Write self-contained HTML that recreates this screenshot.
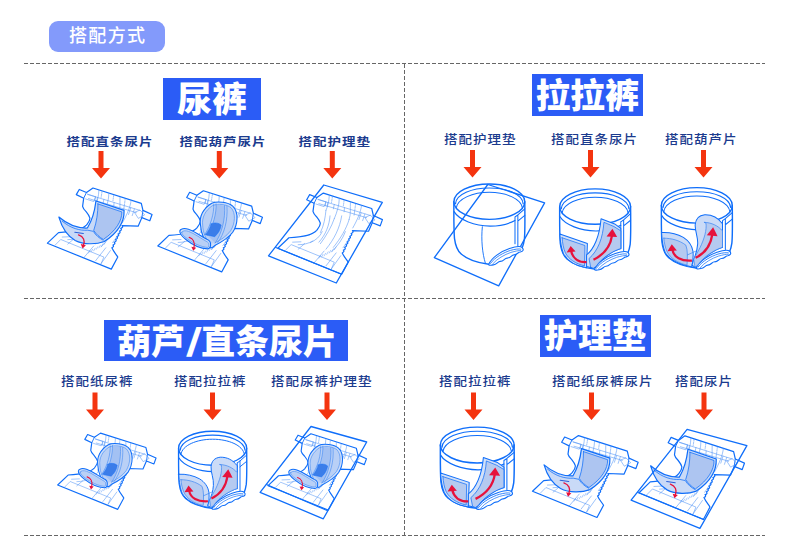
<!DOCTYPE html>
<html lang="zh-CN">
<head>
<meta charset="utf-8">
<title>搭配方式</title>
<style>
html,body{margin:0;padding:0;background:#fff;}
body{width:790px;height:540px;position:relative;overflow:hidden;font-family:"Liberation Sans","Noto Sans CJK SC",sans-serif;}
.pill{position:absolute;left:49px;top:21px;width:116px;height:31px;border-radius:9px;background:#839afb;color:#fff;font-size:18px;font-weight:500;line-height:31px;text-align:center;letter-spacing:1.4px;text-indent:1.4px;}
.ttl{position:absolute;background:#2b5cf6;color:#fff;font-weight:900;font-size:35px;text-align:center;white-space:nowrap;}
.lb{position:absolute;color:#1b3b8e;font-size:13.5px;font-weight:500;letter-spacing:1px;white-space:nowrap;line-height:14px;height:14px;transform:scaleY(0.9);transform-origin:0 0;}
.sq{transform:scaleY(0.81);font-weight:700;}
svg{position:absolute;left:0;top:0;}
</style>
</head>
<body>
<div class="pill">搭配方式</div>

<div class="ttl" style="left:163px;top:78px;width:98px;height:42px;line-height:43px;">尿裤</div>
<div class="ttl" style="left:532px;top:74px;width:111px;height:42px;line-height:44px;font-size:34.5px;">拉拉裤</div>
<div class="ttl" style="left:104px;top:320px;width:244px;height:41px;line-height:39px;font-size:34px;text-indent:2px;">葫芦<span style="display:inline-block;width:16px;text-align:center;font-family:'Noto Sans CJK SC',sans-serif;transform:scale(1.35,0.88) translateY(-1.5px);">/</span>直条尿片</div>
<div class="ttl" style="left:540px;top:315px;width:111px;height:42px;line-height:43px;font-size:34px;text-indent:-1px;">护理垫</div>

<div class="lb sq" style="left:66.5px;top:136.5px;">搭配直条尿片</div>
<div class="lb sq" style="left:179.5px;top:136.5px;">搭配葫芦尿片</div>
<div class="lb sq" style="left:298.5px;top:136.5px;">搭配护理垫</div>

<div class="lb" style="left:444px;top:133.5px;">搭配护理垫</div>
<div class="lb" style="left:551px;top:133.5px;">搭配直条尿片</div>
<div class="lb" style="left:665px;top:133.5px;">搭配葫芦片</div>

<div class="lb" style="left:61px;top:376px;">搭配纸尿裤</div>
<div class="lb" style="left:174px;top:376px;">搭配拉拉裤</div>
<div class="lb" style="left:271px;top:376px;">搭配尿裤护理垫</div>

<div class="lb" style="left:439px;top:376px;">搭配拉拉裤</div>
<div class="lb" style="left:552px;top:376px;">搭配纸尿裤尿片</div>
<div class="lb" style="left:675px;top:376px;">搭配尿片</div>

<svg width="790" height="540" viewBox="0 0 790 540">
<defs>
<g id="arr"><path d="M-2.5 0H2.5V17H9L0 27.5L-9 17H-2.5Z" fill="#f4340f"/></g>
<!-- pull-up pants, coords in 4.908x zoom space; bbox x72..420 y68..465 -->
<g id="pants" fill="none" stroke="#0f6efa" stroke-width="7" stroke-linejoin="round" stroke-linecap="round">
  <ellipse cx="246" cy="155" rx="174" ry="87"/>
  <path d="M80 165C84 118 160 88 246 88C332 88 408 118 412 165" stroke-width="5.8"/>
  <path d="M73 204C98 246 175 273 250 275C300 275 345 262 372 247" stroke-width="5.8"/>
  <path d="M84 186C90 140 165 109 246 109C327 109 402 140 408 186" stroke-width="5"/>
  <path d="M72 155C72 230 71 290 75 335C80 375 92 398 108 412C140 440 190 456 243 462"/>
  <path d="M420 155C421 230 422 300 418 340C415 360 410 375 407 382"/>
  <path d="M372 230V362M386 220V372M372 230L386 220L420 190M386 250L420 222" stroke-width="5"/>
  <path d="M243 462C258 430 300 400 345 385C375 375 398 372 407 380C417 390 412 400 398 402C386 402 384 416 368 416C354 415 352 432 334 432C320 431 318 448 300 448C287 447 284 464 266 465C254 468 241 468 243 462Z" stroke-width="5.5" fill="#fff"/>
  <path d="M252 458C272 428 318 404 350 394C372 388 392 385 401 388" stroke-width="4"/>
  <path d="M262 461C282 436 322 414 352 404C374 398 390 394 400 395" stroke-width="3.5"/>
</g>
<g id="pseam" fill="none" stroke="#0f6efa" stroke-width="4.5"><path d="M212 276C205 340 212 410 227 458"/></g>
<!-- straight pad inside pull-up -->
<g id="ppadS" stroke="#0f6efa" stroke-width="5" stroke-linejoin="round" stroke-linecap="round">
  <path d="M73 290L208 336L204 455C150 446 108 420 90 385C80 360 75 330 73 290Z" fill="#d3e1f8"/>
  <path d="M84 308L196 346L194 446C150 436 115 412 100 382C90 360 86 335 84 308Z" fill="#b5caf0" stroke-width="3.5"/>
  <path d="M204 392C240 365 268 300 275 215L342 240L372 262V361C335 372 280 405 250 449L237 458L204 449Z" fill="#d3e1f8"/>
  <path d="M289 234C284 310 260 372 216 410L224 452L237 458L250 449C280 405 335 372 372 361V274L340 254Z" fill="#b5caf0" stroke-width="3.5"/>
  <g fill="none" stroke="#e6123c" stroke-width="11" stroke-linecap="butt">
    <path d="M204 428C160 430 135 405 128 372"/>
    <path d="M238 416C290 390 322 345 329 296"/>
  </g>
  <path d="M106 380L126 348L150 376Z" fill="#e6123c" stroke="none"/>
  <path d="M302 302L331 264L354 304Z" fill="#e6123c" stroke="none"/>
</g>
<!-- hourglass pad inside pull-up -->
<g id="ppadH" stroke="#0f6efa" stroke-width="5" stroke-linejoin="round" stroke-linecap="round">
  <path d="M73 288C110 286 150 295 180 312C205 328 222 350 227 380C230 405 226 435 222 457C160 448 108 420 90 385C80 360 75 330 73 288Z" fill="#cbdbf7"/>
  <path d="M84 316C120 316 160 326 192 350C202 375 200 410 198 448C150 438 115 412 100 382C90 360 86 338 84 316Z" fill="#b5caf0" stroke-width="3.5" stroke="#3a86f4"/>
  <path d="M200 398L240 380" fill="none" stroke-width="3.5" stroke="#3a86f4"/>
  <path d="M229 424C240 400 248 375 250 345C253 310 236 280 238 250C240 222 255 204 285 201C320 200 350 215 372 245V361C335 372 280 405 250 449L237 458L222 449Z" fill="#cbdbf7"/>
  <path d="M291 243C296 275 282 320 262 362C250 385 238 405 231 420L237 458L250 449C280 405 335 372 372 361V280C350 255 320 240 283 238Z" fill="#b5caf0" stroke-width="3.5" stroke="#3a86f4"/>
  <g fill="none" stroke="#e6123c" stroke-width="11" stroke-linecap="butt">
    <path d="M222 426C170 430 132 410 126 372"/>
    <path d="M240 412C288 390 315 345 322 298"/>
  </g>
  <path d="M102 380L123 346L148 376Z" fill="#e6123c" stroke="none"/>
  <path d="M295 302L326 262L348 306Z" fill="#e6123c" stroke="none"/>
</g>
<g id="sheet1" fill="none" stroke="#0f6efa" stroke-width="1.3" stroke-linejoin="round"><path d="M487.8 184.5L544.6 202.9L498.7 285.9L434.3 257.7Z"/></g>
<!-- open diaper, coords in 5.4x zoom space (origin = top-left of a 120x100 window) -->
<g id="diaper" fill="none" stroke-linejoin="round" stroke-linecap="round">
  <path id="diaperO" d="M286 27L547 110L556 148L605 170L593 204L550 187L530 233L443 230q9 9 -7 15q9 9 -7 15q9 9 -7 15q9 9 -7 15q9 9 -7 15q9 9 -7 15q9 9 -7 15q8 8 -6 15C398 372 412 386 420 400L385 465L40 325L100 268C160 264 225 258 250 228C262 212 272 202 269 188C266 176 258 166 250 156C240 146 232 136 230 126L236 82L196 63L212 35L251 51Z" fill="#fff" stroke="#0f6efa" stroke-width="6.5"/>
  <path d="M251 51L236 82M556 148L550 187" stroke="#0f6efa" stroke-width="5"/>
  <g stroke="#4f93f6" stroke-width="3">
    <path d="M258 62L540 148M262 84L520 160" /><path d="M300 74L296 96M310 78L306 100M345 88L340 112M400 106L398 128M455 122L452 146M490 134L478 170M510 140L498 176"/>
    <path d="M256 60L300 74L290 100L246 86" />
    <path d="M512 158L540 146L565 172L533 190Z"/>
    <path d="M318 40C316 70 312 95 300 120M372 56C372 90 360 130 345 165M432 76C430 110 436 140 425 170M492 94C488 130 470 170 445 215"/>
    <path d="M335 46L330 78M398 66L394 96M460 85L456 118" stroke-dasharray="8 6"/>
    <path d="M300 120C296 160 290 200 270 240M345 165C330 210 300 260 270 300M425 170C410 220 380 270 340 320"/>
    <path d="M322 150C318 200 300 250 262 292M385 150C375 215 345 275 300 330M405 235C390 275 365 310 330 345M280 235C268 262 245 282 215 295M230 285C205 300 180 305 150 306M430 262C418 285 405 305 392 322"/>
    <path d="M82 335L112 305L345 400L330 435"/>
    <path d="M150 330L185 300M120 292L165 290M235 405L290 340M300 420L355 350M330 435L380 365"/>
    <path d="M262 378l8-14m6 8l8-14m6 8l8-14m6 6l8-14m6 6l8-14m6 6l8-14m6 4l8-14" stroke-width="2.5"/>
  </g>
</g>
<!-- straight pad on open diaper -->
<g id="dpadS" stroke="#0f6efa" stroke-linejoin="round" stroke-linecap="round">
  <path d="M302 97L454 148C456 205 425 265 347 316C305 332 235 334 190 310C150 287 118 240 102 184C150 225 205 245 256 243C282 200 296 150 302 97Z" fill="#c9daf7" stroke-width="6.5"/>
  <path d="M313 113L442 156C443 205 410 258 342 305C322 293 302 276 290 256C306 210 313 160 313 113Z" fill="#adc5f1" stroke-width="4"/>
  <path d="M120 206C165 245 215 258 258 255L288 261C300 282 320 298 341 309" fill="none" stroke-width="4"/>
  <path d="M188 266L234 273" stroke="#2a5fd8" stroke-width="5.5"/>
  <path d="M208 280C236 290 244 312 235 336" fill="none" stroke="#e6123c" stroke-width="7"/>
  <path d="M220 330L248 336L230 354Z" fill="#e6123c" stroke="none"/>
</g>
<!-- hourglass pad on open diaper (8.3125x view at 175,195 mapped to D1) -->
<g id="dpadH" transform="translate(132.8,49.7) scale(0.6496)" stroke="#0f6efa" stroke-linejoin="round" stroke-linecap="round">
  <path d="M300 440C250 400 215 320 212 250C200 180 235 110 305 68C350 48 440 58 480 92C530 140 525 240 480 310C440 365 380 395 330 420C320 430 310 438 300 440Z" fill="#cddef9" stroke-width="9"/>
  <path d="M292 405C255 370 232 310 230 250C222 190 250 128 312 88C355 70 430 76 466 106C506 148 502 235 462 298C428 345 375 376 332 398" fill="#b9d0f6" stroke-width="5" stroke="#3a86f4"/>
  <path d="M342 76C345 150 320 250 270 335L335 398C385 330 420 210 412 90Z" fill="#a3c1f3" stroke="none"/>
  <path d="M322 78C325 150 300 250 248 328M342 74C345 150 320 250 270 335M412 88C420 200 390 320 335 398M432 94C440 210 410 325 355 395" fill="none" stroke-width="5" stroke="#3a86f4"/>
  <path d="M300 240C328 226 365 232 384 250C378 290 356 325 330 346L252 330C276 302 292 272 300 240Z" fill="#3b7de9" stroke-width="4"/>
  <path d="M40 300C42 278 80 274 112 285C170 305 220 345 265 368C287 376 296 388 296 410C297 432 290 446 270 448C210 446 140 410 90 370C60 345 38 322 40 300Z" fill="#cddef9" stroke-width="9"/>
  <path d="M56 310C60 296 88 294 112 302C165 322 215 360 258 384C276 392 282 400 282 414C282 426 278 434 272 436C215 432 150 400 100 362C72 340 54 324 56 310Z" fill="#b9d0f6" stroke-width="5" stroke="#3a86f4"/>
  <path d="M118 352C150 362 168 395 158 438" fill="none" stroke="#e6123c" stroke-width="10"/>
  <path d="M136 430L176 438L152 464Z" fill="#e6123c" stroke="none"/>
</g>
<g id="sheet3" fill="none" stroke="#0f6efa" stroke-width="1.3" stroke-linejoin="round"><path d="M323.8 185L382.3 202.4L336.3 283L268.5 255.8Z"/><path d="M275.2 247.3L341.6 274.2" stroke-width="1.1"/></g>
<g id="sheetBL3" fill="none" stroke="#0f6efa" stroke-width="1.3" stroke-linejoin="round"><path d="M311 426.5L366.7 442L323.3 518.8L260.1 492.3Z"/><path d="M266.5 484.5L327.7 510.8" stroke-width="1.1"/></g>
<g id="sheetBR3" fill="none" stroke="#0f6efa" stroke-width="1.3" stroke-linejoin="round"><path d="M687.1 429.4L746.9 445.6L699.9 528.4L631.1 500.2Z"/><path d="M637.2 492.2L703.8 519.6" stroke-width="1.1"/></g>

</defs>
<g stroke="#666" stroke-width="1" stroke-dasharray="4 2" fill="none">
<path d="M24 63.5H765"/>
<path d="M24 298.5H765"/>
<path d="M24 535.5H765"/>
<path d="M404.5 64V536"/>
</g>
<use href="#arr" x="101" y="151"/>
<use href="#arr" x="219.3" y="151"/>
<use href="#arr" x="332.3" y="151"/>
<use href="#arr" x="472.5" y="150"/>
<use href="#arr" x="590.5" y="150"/>
<use href="#arr" x="703.5" y="150"/>
<use href="#arr" x="95" y="392.5"/>
<use href="#arr" x="212.5" y="392.5"/>
<use href="#arr" x="327" y="392.5"/>
<use href="#arr" x="473.5" y="392.5"/>
<use href="#arr" x="591.5" y="392.5"/>
<use href="#arr" x="704" y="392.5"/>
<use href="#sheet1"/>
<g transform="translate(439.2,170.1) scale(0.20375)"><use href="#pants"/><use href="#pseam"/></g>
<g transform="translate(545,175) scale(0.20375)"><use href="#pants"/><use href="#ppadS"/></g>
<g transform="translate(646.7,173.8) scale(0.20375)"><use href="#pants"/><use href="#ppadH"/></g>
<g transform="translate(40,183) scale(0.18519)"><use href="#diaper"/><use href="#dpadS"/></g>
<g transform="translate(150.4,185.8) scale(0.18519)"><use href="#diaper"/><use href="#dpadH"/></g>
<g transform="translate(270.4,188.1) scale(0.18519)"><use href="#diaper"/></g>
<use href="#sheet3"/>
<g transform="translate(50.7,428.4) scale(0.1741)"><use href="#diaper"/><use href="#dpadH"/></g>
<g transform="translate(164.5,417.9) scale(0.1956)"><use href="#pants"/><use href="#ppadH"/></g>
<g transform="translate(261.1,429.1) scale(0.1741)"><use href="#diaper"/><use href="#dpadH"/></g>
<use href="#sheetBL3"/>
<g transform="translate(425.1,413.1) scale(0.2119,0.2062)"><use href="#pants"/><use href="#ppadS"/></g>
<g transform="translate(525,430.5) scale(0.187)"><use href="#diaper"/><use href="#dpadS"/></g>
<g transform="translate(631.6,430.7) scale(0.1865,0.191)"><use href="#diaper"/><use href="#dpadS"/></g>
<use href="#sheetBR3"/>

</svg>
</body>
</html>
